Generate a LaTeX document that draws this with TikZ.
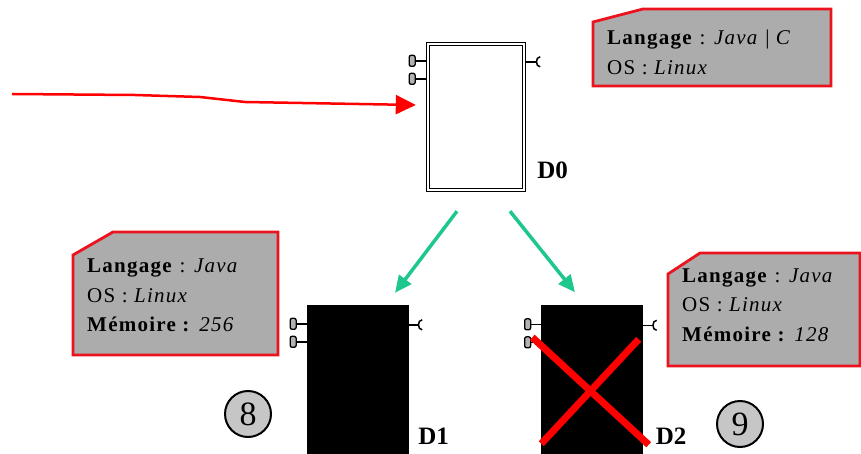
\documentclass[tikz,border=0pt]{standalone}
\usepackage{fontspec}
\setmainfont{Liberation Serif}
\usetikzlibrary{calc,arrows.meta,positioning}
\definecolor{notegray}{RGB}{172,172,172}
\definecolor{noteborder}{RGB}{235,20,30}
\definecolor{deploygreen}{RGB}{30,200,140}

\begin{document}
\begin{tikzpicture}[x=1pt,y=-1pt]
      \tikzstyle{device}=[rectangle, draw=black, inner sep=0pt, minimum width=101pt, minimum height=149pt]
      \tikzstyle{idle}=[device, fill=white, double, double distance=2.6pt, line width=0.9pt, outer sep=2.2pt, minimum width=96pt, minimum height=146pt]
      \tikzstyle{busy}=[device, fill=black]
      \tikzstyle{port}=[rectangle, rounded corners=2pt, draw=black, fill=gray!60, line width=1.3pt, minimum width=6pt, minimum height=11pt, inner sep=0pt]
      \tikzstyle{wire}=[line width=1.5pt]
      \tikzstyle{note}=[draw=noteborder, fill=notegray, line width=2.8pt, line join=miter]
      \tikzstyle{notetext}=[anchor=north west, inner sep=0pt, align=left, font=\fontsize{21}{29.5}\selectfont\addfontfeatures{LetterSpace=6}]
      \tikzstyle{lbl}=[anchor=base west, inner sep=0pt, font=\fontsize{25}{25}\selectfont\bfseries]
      \tikzstyle{rank}=[circle, draw=black, line width=2pt, fill=gray!45, minimum size=46pt, inner sep=0pt, font=\fontsize{34}{34}\selectfont]
      \tikzstyle{request}=[-{Triangle[length=20pt,width=19pt]}, red, line width=2.5pt]
      \tikzstyle{deploy}=[-{Triangle[length=17pt,width=15pt]}, deploygreen, line width=3.5pt]
      \tikzstyle{cross}=[red, line width=7pt]

      \useasboundingbox (0,0) rectangle (861,454);

      \node[idle] (D0) at (476,117) {};
      \node[busy] (D1) at (357.5,379.5) {};
      \node[busy] (D2) at (592,380) {};

      \foreach \dev in {D0,D1,D2}{
        \foreach \dy in {19,37}
          \draw[wire] ($(\dev.north west)+(0,\dy)$) -- ++(-10,0) node[port, anchor=east] {};
        \draw[wire] ($(\dev.north east)+(0,20)$) -- ++(10,0) coordinate (cup);
        \draw[wire] ($(cup)+(4,-5)$) .. controls ($(cup)+(-1,-5)$) and ($(cup)+(-1,5)$) .. ($(cup)+(4,5)$);
      }

      \node[lbl] (lD0) at ($(D0.south east)+(11,-14)$) {D0};
      \node[lbl] (lD1) at ($(D1.south east)+(10,-10)$) {D1};
      \node[lbl] (lD2) at ($(D2.south east)+(13,-10)$) {D2};

      % incoming request
      \coordinate (src) at (12,94);
      \draw[request] (src) -- (135,95) -- (200,97) -- (245,102) -- ($(D0.west)+(-10,-12)$);

      % deployment
      \draw[deploy] ($(D0.south)+(-19,19)$) -- ($(D1.north)+(37.5,-12)$);
      \draw[deploy] ($(D0.south)+(34,19)$) -- ($(D2.north)+(-17,-13)$);

      \draw[cross] ($(D2.north west)+(-9,32)$) -- ($(D2.south east)+(6,-10)$);
      \draw[cross] ($(D2.south west)+(0,-11)$) -- ($(D2.north east)+(-4,34)$);

      \draw[note] (593,22) -- (643,9) -- (831,9) -- (831,86) -- (593,86) -- cycle;
      \draw[note] (73,255) -- (113,232) -- (278,232) -- (278,355) -- (73,355) -- cycle;
      \draw[note] (668,274) -- (700,253) -- (860,253) -- (860,366) -- (668,366) -- cycle;

      \node[notetext] (info0) at (607,30) {\textbf{Langage} : \textit{Java} | \textit{C}\\OS : \textit{Linux}};
      \node[notetext] (info1) at (87,259) {\textbf{Langage} : \textit{Java}\\OS : \textit{Linux}\\\textbf{Mémoire :} \textit{256}};
      \node[notetext] (info2) at (682,268.5) {\textbf{Langage} : \textit{Java}\\OS : \textit{Linux}\\\textbf{Mémoire :} \textit{128}};

      \node[rank] (r8) at (248,414) {8};
      \node[rank] (r9) at (740,424) {9};
    \end{tikzpicture}
\end{document}
